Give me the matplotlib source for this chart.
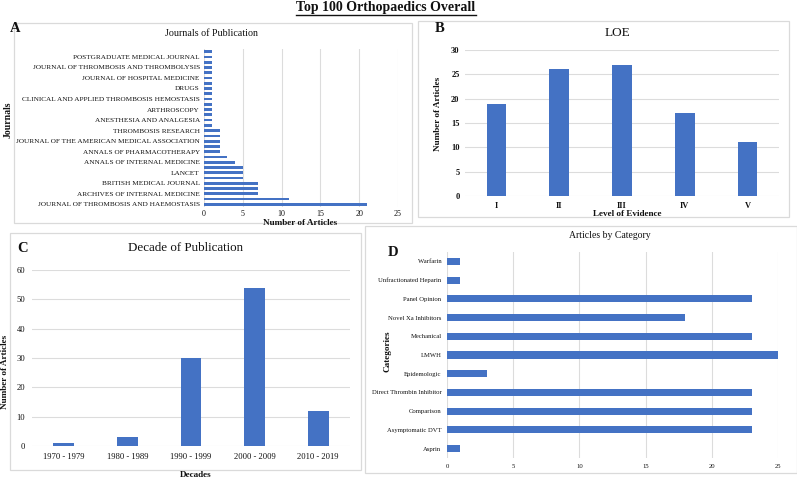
import matplotlib

matplotlib.use("Agg")
import matplotlib.pyplot as plt
from matplotlib.lines import Line2D
from matplotlib.patches import Rectangle

FIG_W, FIG_H = 797, 480
BAR_COLOR = "#4472C4"
GRID_COLOR = "#DCDCDC"
BORDER_COLOR = "#DADADA"
TEXT_COLOR = "#111111"

# Panel A: journals, bottom to top (only every other bar is labelled)
journal_labels = [
    "JOURNAL OF THROMBOSIS AND HAEMOSTASIS",
    "ARCHIVES OF INTERNAL MEDICINE",
    "BRITISH MEDICAL JOURNAL",
    "LANCET",
    "ANNALS OF INTERNAL MEDICINE",
    "ANNALS OF PHARMACOTHERAPY",
    "JOURNAL OF THE AMERICAN MEDICAL ASSOCIATION",
    "THROMBOSIS RESEARCH",
    "ANESTHESIA AND ANALGESIA",
    "ARTHROSCOPY",
    "CLINICAL AND APPLIED THROMBOSIS HEMOSTASIS",
    "DRUGS",
    "JOURNAL OF HOSPITAL MEDICINE",
    "JOURNAL OF THROMBOSIS AND THROMBOLYSIS",
    "POSTGRADUATE MEDICAL JOURNAL",
]
journal_counts = [21, 11, 7, 7, 7, 5, 5, 5, 4, 3, 2, 2, 2, 2, 2,
                  1, 1, 1, 1, 1, 1, 1, 1, 1, 1, 1, 1, 1, 1, 1]

# Panel B: level of evidence
loe_levels = ["I", "II", "III", "IV", "V"]
loe_counts = [19, 26, 27, 17, 11]

# Panel C: decade of publication
decades = ["1970 - 1979", "1980 - 1989", "1990 - 1999", "2000 - 2009", "2010 - 2019"]
decade_counts = [1, 3, 30, 54, 12]

# Panel D: categories, bottom to top
categories = [
    "Asprin",
    "Asymptomatic DVT",
    "Comparison",
    "Direct Thrombin Inhibitor",
    "Epidemologic",
    "LMWH",
    "Mechanical",
    "Novel Xa Inhibitors",
    "Panel Opinion",
    "Unfractionated Heparin",
    "Warfarin",
]
category_counts = [1, 23, 23, 23, 3, 25, 23, 18, 23, 1, 1]

plt.rcParams["font.family"] = ["Liberation Serif", "DejaVu Serif"]


def px_axes(fig, x0, y0, x1, y1):
    return fig.add_axes([x0 / FIG_W, 1 - y1 / FIG_H, (x1 - x0) / FIG_W, (y1 - y0) / FIG_H])


def px_text(fig, x, y, s, **kw):
    kw.setdefault("color", TEXT_COLOR)
    kw.setdefault("ha", "center")
    kw.setdefault("va", "center")
    return fig.text(x / FIG_W, 1 - y / FIG_H, s, **kw)


def px_box(fig, x0, y0, x1, y1):
    fig.add_artist(Rectangle((x0 / FIG_W, 1 - y1 / FIG_H), (x1 - x0) / FIG_W, (y1 - y0) / FIG_H,
                             transform=fig.transFigure, fill=False,
                             edgecolor=BORDER_COLOR, linewidth=0.9))


def style_axes(ax, grid_axis):
    for spine in ax.spines.values():
        spine.set_visible(False)
    ax.grid(True, axis=grid_axis, color=GRID_COLOR, linewidth=0.8)
    ax.set_axisbelow(True)
    ax.tick_params(length=0, colors=TEXT_COLOR)


fig = plt.figure(figsize=(FIG_W / 100, FIG_H / 100), dpi=100, facecolor="white")

# panel borders
px_box(fig, 14, 23, 412, 223)
px_box(fig, 418, 21, 789, 217)
px_box(fig, 10, 233, 361, 470)
px_box(fig, 365, 226, 797, 473)

# ---- A ----
ax_a = px_axes(fig, 204, 49, 398, 207)
style_axes(ax_a, "x")
ax_a.barh(range(len(journal_counts)), journal_counts, height=0.52, color=BAR_COLOR, zorder=3)
ax_a.set_ylim(-0.5, len(journal_counts) - 0.5)
ax_a.set_xlim(0, 25)
ax_a.set_xticks(range(0, 26, 5))
ax_a.set_yticks(range(0, len(journal_counts), 2))
ax_a.set_yticklabels(journal_labels, fontsize=5.2)
ax_a.tick_params(axis="x", labelsize=5.8, pad=2)
ax_a.tick_params(axis="y", pad=3)
px_text(fig, 212, 34, "Journals of Publication", fontsize=7.2)
px_text(fig, 300, 223, "Number of Articles", fontsize=6.6, fontweight="bold")
px_text(fig, 8, 120, "Journals", fontsize=7, fontweight="bold", rotation=90)
px_text(fig, 15, 28, "A", fontsize=10.5, fontweight="bold")

# ---- B ----
ax_b = px_axes(fig, 465, 50, 779, 196)
style_axes(ax_b, "y")
ax_b.bar(range(len(loe_counts)), loe_counts, width=0.31, color=BAR_COLOR, zorder=3)
ax_b.set_xlim(-0.5, len(loe_counts) - 0.5)
ax_b.set_ylim(0, 30)
ax_b.set_yticks(range(0, 31, 5))
ax_b.set_xticks(range(len(loe_levels)))
ax_b.set_xticklabels(loe_levels)
ax_b.tick_params(labelsize=6, pad=4)
for lab in ax_b.get_xticklabels() + ax_b.get_yticklabels():
    lab.set_fontweight("bold")
px_text(fig, 617, 33, "LOE", fontsize=9.5)
px_text(fig, 627, 214, "Level of Evidence", fontsize=6.6, fontweight="bold")
px_text(fig, 438, 114, "Number of Articles", fontsize=6.6, fontweight="bold", rotation=90)
px_text(fig, 440, 28, "B", fontsize=10.5, fontweight="bold")

# ---- C ----
ax_c = px_axes(fig, 32, 270, 350, 446)
style_axes(ax_c, "y")
ax_c.bar(range(len(decade_counts)), decade_counts, width=0.33, color=BAR_COLOR, zorder=3)
ax_c.set_xlim(-0.5, len(decade_counts) - 0.5)
ax_c.set_ylim(0, 60)
ax_c.set_yticks(range(0, 61, 10))
ax_c.set_xticks(range(len(decades)))
ax_c.set_xticklabels(decades)
ax_c.tick_params(labelsize=6.2, pad=5)
px_text(fig, 186, 248, "Decade of Publication", fontsize=9.4)
px_text(fig, 196, 475, "Decades", fontsize=6.6, fontweight="bold")
px_text(fig, 5, 372, "Number of Articles", fontsize=6.6, fontweight="bold", rotation=90)
px_text(fig, 23, 248, "C", fontsize=10.5, fontweight="bold")

# ---- D ----
ax_d = px_axes(fig, 447, 252, 778, 458)
style_axes(ax_d, "x")
ax_d.barh(range(len(category_counts)), category_counts, height=0.38, color=BAR_COLOR, zorder=3)
ax_d.set_ylim(-0.5, len(category_counts) - 0.5)
ax_d.set_xlim(0, 25)
ax_d.set_xticks(range(0, 26, 5))
ax_d.set_yticks(range(len(categories)))
ax_d.set_yticklabels(categories)
ax_d.tick_params(labelsize=4.8)
ax_d.tick_params(axis="y", pad=4)
ax_d.tick_params(axis="x", pad=4)
px_text(fig, 610, 236, "Articles by Category", fontsize=7)
px_text(fig, 388, 351, "Categories", fontsize=6.6, fontweight="bold", rotation=90)
px_text(fig, 393, 252, "D", fontsize=10.5, fontweight="bold")

# ---- main title (underlined) ----
title = px_text(fig, 386, 7, "Top 100 Orthopaedics Overall", fontsize=10, fontweight="bold")
fig.canvas.draw()
bb = title.get_window_extent(renderer=fig.canvas.get_renderer())
uy = 1 - 14.5 / FIG_H
fig.add_artist(Line2D([bb.x0 / FIG_W, bb.x1 / FIG_W], [uy, uy], transform=fig.transFigure,
                      color=TEXT_COLOR, linewidth=1.0))

fig.savefig("out.png", dpi=100, facecolor="white")
plt.close(fig)
